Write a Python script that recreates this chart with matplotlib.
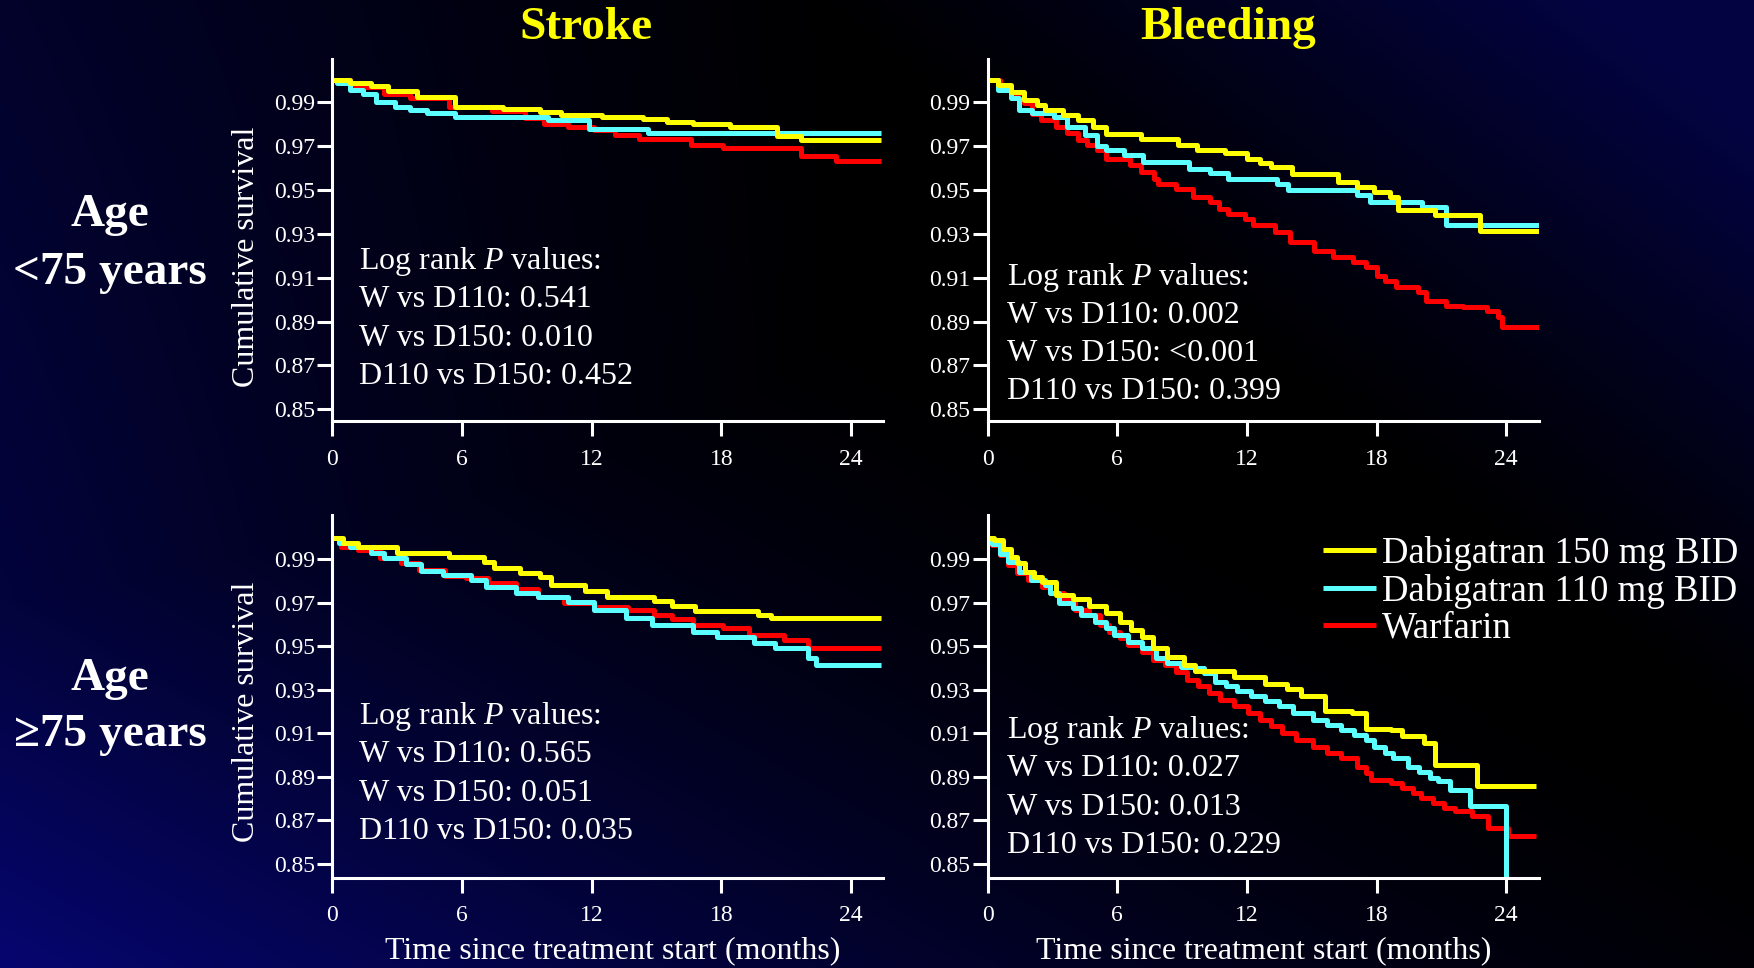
import numpy as np
import matplotlib
matplotlib.use("Agg")
import matplotlib.pyplot as plt

plt.rcParams['font.family'] = ['Liberation Serif', 'DejaVu Serif']
plt.rcParams['mathtext.fontset'] = 'custom'
plt.rcParams['mathtext.rm'] = 'Liberation Serif'
plt.rcParams['mathtext.it'] = 'Liberation Serif:italic'

# Kaplan-Meier step data (months, cumulative survival)
# Stroke, age < 75
stroke_lt75_d150_t = [0, 0.8, 1.8, 2.6, 3.9, 5.7, 7.9, 9.6, 10.6, 12.5, 14.4, 15.5, 16.7, 18.4, 20.6, 21.7, 25.4]
stroke_lt75_d150_s = [1.0, 0.999, 0.9975, 0.995, 0.9926, 0.988, 0.987, 0.9857, 0.9842, 0.9834, 0.9822, 0.981, 0.980, 0.9788, 0.9746, 0.973, 0.973]
stroke_lt75_d110_t = [0, 0.2, 0.8, 1.4, 2.0, 2.9, 3.6, 4.4, 5.7, 10.0, 11.9, 14.6, 25.4]
stroke_lt75_d110_s = [1.0, 0.9987, 0.9956, 0.994, 0.990, 0.988, 0.9865, 0.985, 0.9834, 0.9819, 0.978, 0.9761, 0.9761]
stroke_lt75_w_t = [0, 0.8, 2.4, 3.6, 5.4, 7.4, 8.9, 9.8, 10.9, 12.1, 13.1, 14.2, 16.6, 18.1, 21.7, 23.3, 25.4]
stroke_lt75_w_s = [1.0, 0.997, 0.994, 0.992, 0.988, 0.986, 0.9827, 0.980, 0.9786, 0.9773, 0.975, 0.9735, 0.9705, 0.969, 0.9655, 0.9632, 0.9632]

# Bleeding, age < 75
bleed_lt75_d150_t = [0, 0.46, 1.06, 1.67, 2.27, 2.67, 3.47, 4.18, 4.88, 5.48, 7.09, 8.8, 9.7, 11.0, 12.0, 12.6, 13.1, 14.1, 16.2, 17.1, 17.9, 18.6, 19.0, 20.7, 22.8, 25.5]
bleed_lt75_d150_s = [1.0, 0.998, 0.9949, 0.991, 0.9888, 0.9865, 0.9842, 0.9819, 0.9786, 0.9758, 0.9735, 0.9705, 0.9685, 0.9667, 0.9644, 0.9624, 0.9606, 0.9575, 0.9537, 0.9514, 0.9491, 0.9468, 0.941, 0.9384, 0.9313, 0.9313]
bleed_lt75_d110_t = [0, 0.46, 1.06, 1.47, 2.07, 3.07, 3.68, 4.48, 5.08, 5.48, 6.29, 7.19, 9.3, 10.3, 11.1, 13.4, 13.9, 17.1, 17.7, 20.1, 21.2, 25.5]
bleed_lt75_d110_s = [1.0, 0.9956, 0.9918, 0.9865, 0.9853, 0.9834, 0.9789, 0.9751, 0.97, 0.9682, 0.966, 0.9629, 0.9598, 0.9578, 0.9552, 0.9529, 0.9499, 0.9476, 0.9446, 0.9423, 0.9342, 0.9342]
bleed_lt75_w_t = [0, 0.56, 1.06, 1.67, 2.07, 2.47, 3.17, 3.68, 4.18, 4.58, 5.08, 5.48, 6.59, 7.09, 7.69, 7.89, 8.7, 9.5, 10.3, 10.7,
                  11.1, 11.9, 12.3, 13.3, 14.0, 15.1, 16.0, 16.9, 17.5, 18.0, 18.4, 18.9, 19.9, 20.3, 21.2, 22.0, 23.1, 23.6, 23.8, 25.5]
bleed_lt75_w_s = [1.0, 0.9972, 0.9941, 0.9895, 0.9847, 0.9819, 0.9786, 0.9761, 0.9728, 0.9705, 0.9682, 0.9644, 0.9613, 0.9583, 0.9552, 0.9529, 0.9507, 0.9468, 0.9446, 0.9415,
                  0.9392, 0.9369, 0.9339, 0.9308, 0.9262, 0.9224, 0.9194, 0.9171, 0.9148, 0.911, 0.9087, 0.9057, 0.9034, 0.8996, 0.8973, 0.8965, 0.895, 0.8919, 0.8877, 0.8877]

# Stroke, age >= 75
stroke_ge75_d150_t = [0, 0.5, 1.2, 3.0, 5.4, 7.0, 7.5, 8.7, 9.6, 10.1, 11.7, 12.7, 14.9, 15.7, 16.8, 19.7, 20.3, 25.4]
stroke_ge75_d150_s = [1.0, 0.9976, 0.9958, 0.9928, 0.9909, 0.9889, 0.9859, 0.9839, 0.9817, 0.9782, 0.9756, 0.9729, 0.971, 0.9686, 0.9664, 0.9644, 0.9629, 0.9629]
stroke_ge75_d110_t = [0, 0.3, 0.8, 1.8, 2.4, 3.4, 4.1, 5.1, 6.4, 7.1, 8.5, 9.5, 10.9, 12.1, 13.6, 14.8, 16.7, 17.8, 19.5, 20.5, 22.0, 22.4, 25.4]
stroke_ge75_d110_s = [1.0, 0.9976, 0.9958, 0.9928, 0.9905, 0.9879, 0.9848, 0.9828, 0.9805, 0.9771, 0.9747, 0.9726, 0.9706, 0.9667, 0.9629, 0.9599, 0.9568, 0.9545, 0.9514, 0.9491, 0.9445, 0.9415, 0.9415]
stroke_ge75_w_t = [0, 0.4, 1.2, 2.2, 3.2, 4.0, 5.2, 6.2, 7.2, 8.5, 9.5, 10.7, 12.1, 13.7, 14.9, 15.7, 16.7, 18.1, 19.3, 20.9, 22.0, 25.4]
stroke_ge75_w_s = [1.0, 0.9958, 0.9943, 0.9905, 0.9882, 0.9851, 0.9824, 0.9813, 0.979, 0.9762, 0.9729, 0.9698, 0.9683, 0.9667, 0.9644, 0.9625, 0.9599, 0.9583, 0.9553, 0.953, 0.9491, 0.9491]

# Bleeding, age >= 75
bleed_ge75_d150_t = [0, 0.31, 0.7, 1.08, 1.34, 1.73, 2.12, 2.51, 3.15, 3.93, 4.7, 5.48, 6.12, 6.64, 7.16, 7.67, 8.32, 9.09, 9.61, 11.42,
                     12.84, 13.87, 14.52, 15.6, 16.84, 17.5, 18.65, 19.17, 20.2, 20.7, 22.66, 25.37]
bleed_ge75_d150_s = [1.0, 0.9989, 0.995, 0.9912, 0.9882, 0.9843, 0.982, 0.9797, 0.9736, 0.9716, 0.9686, 0.9652, 0.9614, 0.9576, 0.9545, 0.9491, 0.9453, 0.9415, 0.9389, 0.9361,
                     0.9328, 0.9303, 0.9273, 0.9205, 0.9193, 0.912, 0.9117, 0.9086, 0.9055, 0.8956, 0.886, 0.886]
bleed_ge75_d110_t = [0, 0.18, 0.57, 0.96, 1.47, 1.99, 2.63, 2.89, 3.28, 3.93, 4.31, 4.96, 5.48, 5.86, 6.51, 7.16, 7.8, 8.32, 8.96, 9.61, 10.0,
                     10.51, 11.03, 11.55, 12.19, 12.84, 13.48, 14.13, 15.04, 15.68, 16.33, 16.97, 17.49, 17.88, 18.39, 18.78, 19.43, 19.94, 20.46, 20.85, 21.4, 22.3, 24.0]
bleed_ge75_d110_s = [1.0, 0.9973, 0.9927, 0.9889, 0.9843, 0.9805, 0.9782, 0.9744, 0.9698, 0.9675, 0.9644, 0.9614, 0.9583, 0.9553, 0.9522, 0.9491, 0.9446, 0.9423, 0.9407, 0.94, 0.9377,
                     0.9338, 0.9316, 0.9293, 0.927, 0.9247, 0.9224, 0.9193, 0.9162, 0.914, 0.9117, 0.9094, 0.9071, 0.904, 0.901, 0.8987, 0.8948, 0.8925, 0.8895, 0.888, 0.8841, 0.8765, 0.84]
bleed_ge75_w_t = [0, 0.18, 0.57, 0.96, 1.34, 1.86, 2.51, 2.89, 3.54, 4.06, 4.7, 5.22, 5.61, 6.12, 6.51, 7.16, 7.67, 8.19, 8.71, 9.22, 9.74, 10.26, 10.77,
                  11.42, 12.06, 12.58, 13.1, 13.61, 14.26, 15.04, 15.68, 16.33, 17.1, 17.49, 17.75, 18.65, 19.17, 19.69, 20.07, 20.59, 21.1, 21.62, 22.4, 23.17, 24.08, 25.37]
bleed_ge75_w_s = [1.0, 0.9966, 0.992, 0.9874, 0.9836, 0.9805, 0.9775, 0.9744, 0.9713, 0.9667, 0.9644, 0.9599, 0.9568, 0.9537, 0.9507, 0.9476, 0.9438, 0.9415, 0.9384, 0.9346, 0.9316, 0.9285, 0.9254,
                  0.9224, 0.9193, 0.9162, 0.9132, 0.9101, 0.9071, 0.904, 0.901, 0.8987, 0.8948, 0.8918, 0.8887, 0.8872, 0.8849, 0.8826, 0.8803, 0.878, 0.8757, 0.8742, 0.8719, 0.8665, 0.863, 0.863]

# log rank p values: W vs D110, W vs D150, D110 vs D150
stroke_lt75_p = ["0.541", "0.010", "0.452"]
bleed_lt75_p = ["0.002", "<0.001", "0.399"]
stroke_ge75_p = ["0.565", "0.051", "0.035"]
bleed_ge75_p = ["0.027", "0.013", "0.229"]

series_labels = ["Dabigatran 150 mg BID", "Dabigatran 110 mg BID", "Warfarin"]
y_ticks = [0.85, 0.87, 0.89, 0.91, 0.93, 0.95, 0.97, 0.99]
x_ticks = [0, 6, 12, 18, 24]

YELLOW = "#FFFF00"
CYAN = "#5CFFFF"
RED = "#FF0000"
W_PX, H_PX = 1754, 968


def px(x, y):
    # pixel position (from top-left) -> figure fraction
    return x / W_PX, 1 - y / H_PX


fig = plt.figure(figsize=(W_PX / 100, H_PX / 100), dpi=100, facecolor="black")

# navy/black slide background: brightest bottom-left, black band through the middle
bg = fig.add_axes([0, 0, 1, 1], zorder=-10)
u, v = np.meshgrid(np.linspace(0, 1, 360), np.linspace(0, 1, 200))
s1 = np.clip((v - u + 0.2) / 1.2, 0, 1) ** 1.6
s2 = np.clip((u - 0.7 * v - 0.45) / 0.45, 0, 1) ** 1.2
s3 = np.clip((0.5 - u) / 0.5, 0, 1) ** 1.2 * (0.6 + 0.4 * v)
blue = np.maximum.reduce([112 * s1, 65 * s2, 72 * s3]) / 255
img = np.dstack([blue * 0.05, blue * 0.05, blue])
bg.imshow(img, aspect="auto", extent=[0, 1, 0, 1], interpolation="bilinear")
bg.axis("off")


def make_axes(left_px, top_px, right_px, bottom_px, ylim):
    l, t = px(left_px, top_px)
    r, b = px(right_px, bottom_px)
    ax = fig.add_axes([l, b, r - l, t - b])
    ax.set_facecolor("none")
    ax.set_xlim(0, 25.5)
    ax.set_ylim(*ylim)
    for side in ("top", "right"):
        ax.spines[side].set_visible(False)
    for side in ("left", "bottom"):
        ax.spines[side].set_color("white")
        ax.spines[side].set_linewidth(2.2)
    ax.set_xticks(x_ticks)
    ax.set_xticklabels([str(t) for t in x_ticks])
    ax.set_yticks(y_ticks)
    ax.set_yticklabels([f"{t:.2f}" for t in y_ticks])
    ax.tick_params(axis="x", direction="out", length=11, width=2.2, colors="white", labelsize=17, pad=9)
    ax.tick_params(axis="y", direction="out", length=11, width=2.2, colors="white", labelsize=17, pad=1.5)
    return ax


def draw_curves(ax, d150, d110, w):
    lines = []
    for (t, s), col in zip([w, d110, d150], [RED, CYAN, YELLOW]):
        ln, = ax.step(t, s, where="post", color=col, lw=3.6, solid_capstyle="butt")
        lines.append(ln)
    return lines[::-1]


def pvalue_text(x_px, y_px, pvals):
    rows = ["Log rank $P$ values:",
            f"W vs D110: {pvals[0]}",
            f"W vs D150: {pvals[1]}",
            f"D110 vs D150: {pvals[2]}"]
    for i, row in enumerate(rows):
        fig.text(*px(x_px, y_px + i * 38.2), row, color="white", fontsize=23, ha="left", va="center")


ax1 = make_axes(332.3, 59, 883.3, 421.3, (0.8445, 1.0098))
ax2 = make_axes(987.7, 59, 1538.7, 421.3, (0.8445, 1.0098))
ax3 = make_axes(332.3, 515, 883.3, 877.7, (0.8437, 1.0104))
ax4 = make_axes(987.7, 515, 1538.7, 877.7, (0.8437, 1.0104))

draw_curves(ax1, (stroke_lt75_d150_t, stroke_lt75_d150_s), (stroke_lt75_d110_t, stroke_lt75_d110_s), (stroke_lt75_w_t, stroke_lt75_w_s))
draw_curves(ax2, (bleed_lt75_d150_t, bleed_lt75_d150_s), (bleed_lt75_d110_t, bleed_lt75_d110_s), (bleed_lt75_w_t, bleed_lt75_w_s))
draw_curves(ax3, (stroke_ge75_d150_t, stroke_ge75_d150_s), (stroke_ge75_d110_t, stroke_ge75_d110_s), (stroke_ge75_w_t, stroke_ge75_w_s))
handles = draw_curves(ax4, (bleed_ge75_d150_t, bleed_ge75_d150_s), (bleed_ge75_d110_t, bleed_ge75_d110_s), (bleed_ge75_w_t, bleed_ge75_w_s))

pvalue_text(359, 261.7, stroke_lt75_p)
pvalue_text(1006.6, 277.3, bleed_lt75_p)
pvalue_text(359, 716.7, stroke_ge75_p)
pvalue_text(1007, 730.7, bleed_ge75_p)

# axis labels
for yc in (257, 712):
    fig.text(*px(246, yc), "Cumulative survival", color="white", fontsize=23, rotation=90, ha="center", va="center")
for xc in (613, 1264):
    fig.text(*px(xc, 951), "Time since treatment start (months)", color="white", fontsize=23, ha="center", va="center")

# column titles and row labels
fig.text(*px(586, 28), "Stroke", color=YELLOW, fontsize=34, fontweight="bold", ha="center", va="center")
fig.text(*px(1228, 28), "Bleeding", color=YELLOW, fontsize=34, fontweight="bold", ha="center", va="center")
for (yc, txt) in [(215, "Age"), (273, "<75 years"), (679, "Age"), (735, "\u226575 years")]:
    fig.text(*px(110, yc), txt, color="white", fontsize=34, fontweight="bold", ha="center", va="center")

leg = ax4.legend(handles, series_labels, loc="upper left", bbox_to_anchor=px(1323, 536),
                 bbox_transform=fig.transFigure, frameon=False, fontsize=26.5,
                 handlelength=1.44, handletextpad=0.15, labelspacing=0.07,
                 borderpad=0, borderaxespad=0)
for txt in leg.get_texts():
    txt.set_color("white")
for ln in leg.get_lines():
    ln.set_linewidth(3.6)

fig.savefig("out.png", dpi=100, facecolor=fig.get_facecolor())
